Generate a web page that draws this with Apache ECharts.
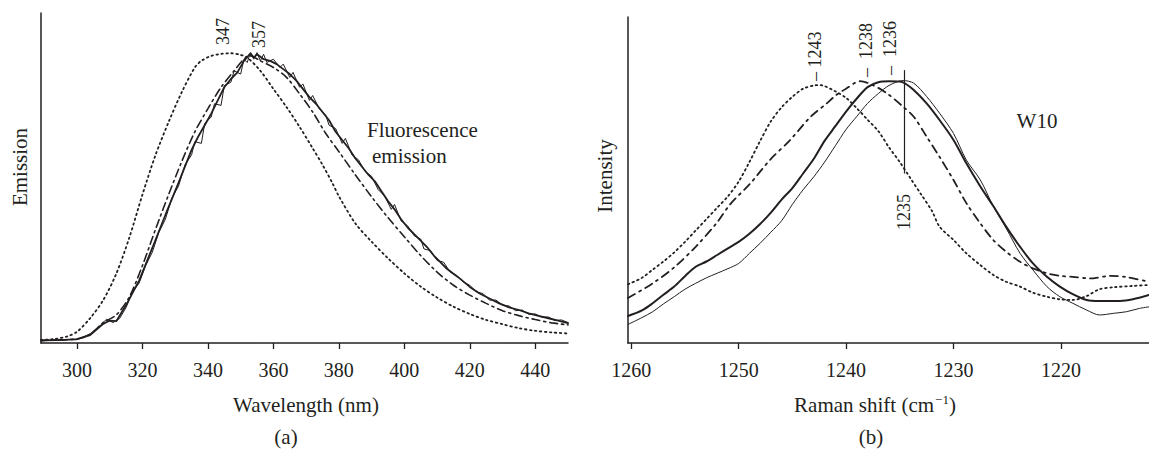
<!DOCTYPE html>
<html>
<head>
<meta charset="utf-8">
<script src="https://cdn.jsdelivr.net/npm/echarts@6/dist/echarts.min.js"></script>
<style>
    html, body { margin: 0; padding: 0; background: #fff; }
    #spectra { width: 1149px; height: 455px; }
</style>
</head>
<body>
<div id="spectra"></div>
<script>
// (a) fluorescence emission, wavelength (nm) vs emission
var wlTicks = [300, 320, 340, 360, 380, 400, 420, 440];
var fluorThick = [[289,0.8],[295,0.9],[300,1.2],[304,2.4],[308,5.8],[310,6.8],[312,6.6],[315,11.5],[319,19],[323,28.8],[327,38.8],[331,48.5],[335,58.5],[337,62.5],[339,66],[341,69.5],[343,73.5],[345,77.5],[347,80],[349,82],[351,85.5],[353,87.8],[354,86.5],[355,87.5],[357,86],[359,85.5],[361,84.5],[363,83],[365,81.5],[367,79.5],[369,77],[371,74.5],[373,72.5],[375,70],[377,67.5],[379,64],[381,61.5],[383,59],[385,56],[387,53.5],[389,51],[391,49],[393,46],[395,43],[397,40.5],[399,37.5],[401,35],[403,33],[405,31],[407,29],[409,26.5],[411,24.5],[413,22.5],[415,21],[417,19.5],[420,17],[423,15],[426,13.5],[429,12],[432,10.8],[435,10],[438,9],[441,8.2],[444,7.5],[447,6.8],[450,6]];
var fluorThin = [[289,0.6],[294,1.1],[300,1.0],[304,2.8],[307,5.2],[309,7.2],[311,6.2],[313,7.4],[315,10.8],[317,15.5],[319,18.2],[321,23.5],[323,27.5],[325,33.5],[327,37.5],[329,44],[331,47.5],[333,54],[335,57],[336,61],[338,60.5],[339,66.5],[341,68.5],[342,72.5],[344,72],[345,78],[347,79],[348,82.5],[350,81.5],[351,86],[352,85],[353,88],[354,86],[355,88],[356,85.5],[357,87.5],[358,85],[360,86],[362,83.5],[363,84.5],[365,80.5],[366,82],[368,77.5],[369,78.5],[371,73.5],[372,75],[374,71],[376,69],[377,66],[379,65],[381,60.5],[382,62],[384,57],[386,55.5],[388,52],[390,50.5],[392,46.5],[394,44.5],[396,40.5],[397,42],[399,37],[401,35.5],[403,32.5],[405,31.5],[406,28.5],[408,28],[410,25],[412,24.5],[414,21.5],[416,20.5],[418,18.5],[420,17.5],[422,15.5],[424,15],[426,13],[428,13],[430,11.5],[432,11.2],[434,9.8],[436,10],[438,8.7],[440,8.8],[442,7.8],[444,7.9],[446,6.8],[448,7],[450,6.2]];
var fluorDash = [[289,0.8],[300,1.2],[304,2.6],[308,6.2],[312,8.5],[316,14],[320,23.5],[324,34.5],[328,45],[332,55],[336,64],[340,71],[344,77.5],[348,82.5],[351,86],[353,87],[356,85.5],[360,83.5],[364,80.5],[368,75.5],[372,70],[376,63.5],[380,58],[385,51],[390,44.3],[395,38],[400,32.2],[405,26.5],[410,21.5],[415,17.5],[420,14.5],[425,12],[430,9.8],[435,8.3],[440,7.1],[445,6.1],[450,5.5]];
var fluorDot = [[289,0.9],[293,1.2],[297,2.0],[300,3.4],[304,7.5],[308,13],[312,21],[316,32],[320,45],[324,57],[328,67],[332,76],[336,83.5],[338,85.5],[341,87],[344,87.6],[347,87.8],[350,87.3],[352,86.5],[356,82.5],[360,77],[364,71.5],[368,65.5],[372,59],[375,54],[378,48.5],[380,44.5],[385,36.3],[390,30.7],[395,25.7],[400,21.1],[405,17.1],[410,13.8],[415,11],[420,8.8],[425,7],[430,5.7],[435,4.5],[440,3.7],[445,3.2],[450,2.9]];

// (b) W10 Raman band, Raman shift (cm-1) vs intensity
var ramanTicks = [1260, 1250, 1240, 1230, 1220];
var ramanThick = [[1260.3,8.3],[1259,10],[1258,12.2],[1257,14.8],[1256,17.3],[1255,20.5],[1254,23.4],[1253,25],[1252,27],[1251,29],[1250,31],[1249,33.5],[1248,36.5],[1247,40],[1246,44],[1245,47.5],[1244,52],[1243,56.5],[1242,62],[1241,66.5],[1240,71],[1239,75],[1238,78.5],[1237,80],[1236,80.3],[1235,80.2],[1234.5,79.6],[1233.7,77.6],[1232.5,73.5],[1231.3,68.4],[1230,62.3],[1228.8,55.1],[1227.5,48],[1226.3,42],[1225.1,35.7],[1223.8,29.5],[1222.6,24.4],[1221.3,20.3],[1220.1,17.3],[1218.9,15],[1217.6,13.2],[1216.4,12.9],[1214.5,12.9],[1213.3,13.4],[1211.8,14.7]];
var ramanThin = [[1260.3,5.7],[1259,7.8],[1258,9.6],[1257,12],[1256,14.2],[1255,16.5],[1254,18.3],[1253,20],[1252,21.4],[1251,22.8],[1250,24.4],[1249,27.5],[1248,30.6],[1247,34],[1246,37.5],[1245,42.5],[1244,47],[1243,51],[1242,55.5],[1241,60.5],[1240,65.5],[1239,69.5],[1238,73.5],[1237,76.5],[1236,79],[1234.7,80.5],[1233.7,79.7],[1232.5,75.6],[1231.3,70.5],[1230,64.3],[1228.8,56.1],[1227.5,50],[1226.3,42],[1225.1,35.2],[1223.8,27.5],[1222.6,22.4],[1221.3,17.3],[1220.1,14.2],[1218.9,12.2],[1217.6,10.1],[1216.4,8.6],[1215.1,9.1],[1213.9,9.6],[1212.7,10.6],[1211.8,11.1]];
var ramanDashDot = [[1260.3,13.8],[1258,18.3],[1256,23.2],[1254,29.5],[1252,37],[1250.8,42.5],[1248.9,49],[1247.1,56.1],[1245.2,62.3],[1243.3,69.4],[1241.8,73.5],[1240.9,76.1],[1240,78],[1238.7,80.3],[1237.5,79.1],[1236.2,76.6],[1234.7,72.5],[1233.7,69.4],[1232.5,63.3],[1231.3,57.1],[1230,50],[1228.8,42.9],[1227.5,36.7],[1226.3,31.6],[1225.1,28],[1223.8,24.9],[1222.6,22.9],[1221.3,21.4],[1220.1,20.6],[1218.9,20.3],[1217.3,19.8],[1215.4,20.6],[1213.9,20.2],[1211.8,18.8]];
var ramanDot = [[1260.3,18],[1259,20],[1258,22.5],[1257,25],[1256,27.8],[1255,31],[1254,34.5],[1253,38],[1252,41.5],[1251,45],[1250,49.5],[1249,55.5],[1248,62],[1247,68],[1246,72.3],[1245,75.5],[1244,78],[1243,79],[1242.5,79.1],[1242,78.8],[1241,77.2],[1240,75.2],[1239,72],[1238,68.5],[1237,65],[1236,60],[1235,55.5],[1234,50.5],[1233,45.5],[1232,40.5],[1231.3,35.7],[1230,31.6],[1228.8,27.5],[1227.5,23.9],[1226.3,20.9],[1225.1,18.8],[1223.8,17.3],[1222.6,15.4],[1221.3,14.2],[1220.1,13.4],[1218.9,13.2],[1217.6,14.4],[1216.4,16.5],[1215.1,17.1],[1213.3,17.5],[1211.8,17.8]];
var marker1235 = [[1234.6, 83.7], [1234.6, 52]];

var ink = '#231f20';
var serif = 'Liberation Serif';

function xAxisOf(idx, lo, hi, ticks, inverse) {
    return {
        type: 'value',
        gridIndex: idx,
        min: lo,
        max: hi,
        inverse: inverse,
        axisLine: { onZero: false, lineStyle: { color: ink, width: 1.5 } },
        axisTick: { customValues: ticks, length: 6, lineStyle: { color: ink, width: 1.3 } },
        axisLabel: {
            customValues: ticks,
            color: ink,
            fontFamily: serif,
            fontSize: 20,
            margin: 17,
            formatter: function (v) { return String(v); }
        },
        splitLine: { show: false }
    };
}

function yAxisOf(idx) {
    return {
        type: 'value',
        gridIndex: idx,
        min: 0,
        max: 100,
        axisLine: { show: true, onZero: false, lineStyle: { color: ink, width: 1.5 } },
        axisTick: { show: false },
        axisLabel: { show: false },
        splitLine: { show: false }
    };
}

function curve(idx, data, width, dash, smooth) {
    return {
        type: 'line',
        xAxisIndex: idx,
        yAxisIndex: idx,
        data: data,
        showSymbol: false,
        smooth: smooth,
        lineStyle: { color: ink, width: width, type: dash, cap: 'round' }
    };
}

function txt(text, x, y, size, rot, align) {
    return {
        type: 'text',
        x: x,
        y: y,
        rotation: rot || 0,
        style: {
            text: text,
            font: size + 'px "' + serif + '"',
            fill: ink,
            textAlign: align || 'center',
            textVerticalAlign: 'middle'
        }
    };
}

var chart = echarts.init(document.getElementById('spectra'), null, { renderer: 'svg' });

var ramanMarked = curve(1, ramanThick, 2, 'solid', 0.3);
ramanMarked.markLine = {
    silent: true,
    symbol: 'none',
    label: { show: false },
    lineStyle: { color: ink, width: 1.2, type: 'solid' },
    data: [[{ coord: marker1235[0] }, { coord: marker1235[1] }]]
};

var option = {
    animation: false,
    backgroundColor: '#fff',
    grid: [
        { left: 41, top: 13, width: 527, height: 330 },
        { left: 628, top: 17, right: 0, height: 326 }
    ],
    xAxis: [
        xAxisOf(0, 289, 450, wlTicks, false),
        xAxisOf(1, 1211.8, 1260.3, ramanTicks, true)
    ],
    yAxis: [yAxisOf(0), yAxisOf(1)],
    series: [
        curve(0, fluorDot, 1.8, [1.5, 3.5], 0.3),
        curve(0, fluorDash, 1.6, [8, 4, 2, 4], 0.3),
        curve(0, fluorThin, 1, 'solid', false),
        curve(0, fluorThick, 1.8, 'solid', false),
        curve(1, ramanDot, 1.8, [1.5, 3.5], 0.3),
        curve(1, ramanDashDot, 1.8, [8, 5, 2, 5], 0.3),
        curve(1, ramanThin, 1, 'solid', 0.3),
        ramanMarked
    ],
    graphic: [
        txt('Emission', 20, 167, 21, Math.PI / 2),
        txt('Wavelength (nm)', 306, 405, 21),
        txt('(a)', 286, 437, 21),
        txt('Fluorescence', 367, 130, 21, 0, 'left'),
        txt('emission', 372, 156, 21, 0, 'left'),
        txt('347', 223, 45, 18, Math.PI / 2, 'left'),
        txt('357', 259, 48, 18, Math.PI / 2, 'left'),
        txt('Intensity', 605, 176, 21, Math.PI / 2),
        txt('(b)', 871, 437, 21),
        txt('W10', 1037, 121, 21),
        txt('\u2013 1243', 815, 81, 18, Math.PI / 2, 'left'),
        txt('\u2013  1238', 866, 77, 18, Math.PI / 2, 'left'),
        txt('\u2013  1236', 890, 75, 18, Math.PI / 2, 'left'),
        txt('1235', 904, 230, 18, Math.PI / 2, 'left'),
        {
            type: 'text',
            x: 875,
            y: 405,
            style: {
                text: 'Raman shift (cm{sup|\u22121})',
                font: '21px "' + serif + '"',
                fill: ink,
                textAlign: 'center',
                textVerticalAlign: 'middle',
                rich: {
                    sup: { fontSize: 13, fontFamily: serif, fill: ink, padding: [0, 0, 12, 1] }
                }
            }
        }
    ]
};

chart.setOption(option);
window.addEventListener('resize', function () {
    chart.resize();
});
</script>
</body>
</html>
